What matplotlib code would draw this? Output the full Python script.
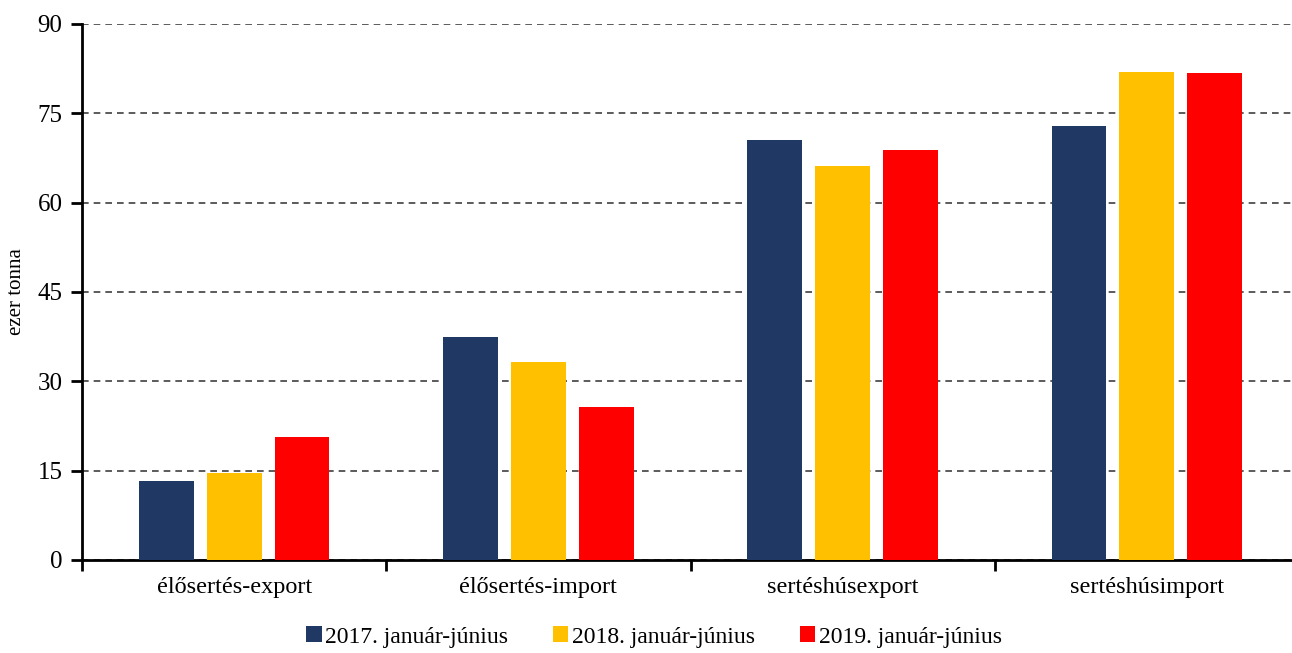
import numpy as np
import matplotlib

matplotlib.use("Agg")
import matplotlib.pyplot as plt
from matplotlib.patches import Patch

categories = ["élősertés-export", "élősertés-import", "sertéshúsexport", "sertéshúsimport"]
series_names = ["2017. január-június", "2018. január-június", "2019. január-június"]
v2017 = [13.2, 37.4, 70.5, 72.8]
v2018 = [14.6, 33.2, 66.1, 82.0]
v2019 = [20.6, 25.7, 68.8, 81.7]
yticks = [0, 15, 30, 45, 60, 75, 90]

colors = ["#203864", "#FFC000", "#FF0000"]

plt.rcParams["font.family"] = ["Liberation Serif", "DejaVu Serif"]

fig = plt.figure(figsize=(12.92, 6.53), dpi=100)
ax = fig.add_axes([82 / 1292, 93 / 653, (1299 - 82) / 1292, 536 / 653])

x = np.arange(len(categories))
width = 0.18
step = 0.223
for k, vals in enumerate([v2017, v2018, v2019]):
    ax.bar(x + (k - 1) * step, vals, width, color=colors[k], zorder=3)

ax.set_xlim(-0.5, len(categories) - 0.5)
ax.set_ylim(0, 90)
ax.set_yticks(yticks)
ax.tick_params(axis="y", labelsize=18, direction="out", length=8, width=2, pad=6)
ax.set_xticks(x)
ax.set_xticklabels(categories, fontsize=17.5)
ax.tick_params(axis="x", which="major", length=0, pad=12)
ax.set_xticks(np.arange(-0.5, len(categories), 1.0), minor=True)
ax.tick_params(axis="x", which="minor", direction="out", length=8, width=2)

ax.grid(axis="y", linestyle=(0, (4, 3)), color="#404040", linewidth=1.2, zorder=0)
for side in ["top", "right"]:
    ax.spines[side].set_visible(False)
for side in ["left", "bottom"]:
    ax.spines[side].set_linewidth(2)
ax.set_ylabel("ezer tonna", fontsize=15)
ax.yaxis.set_label_coords(-0.046, 0.5)

handles = [Patch(facecolor=c) for c in colors]
fig.legend(handles, series_names, loc="center", bbox_to_anchor=(654 / 1292, 1 - 637 / 653),
           ncol=3, frameon=False, fontsize=17, handlelength=0.65, handleheight=0.65,
           handletextpad=0.15, columnspacing=1.9)

fig.savefig("out.png")
plt.close(fig)
